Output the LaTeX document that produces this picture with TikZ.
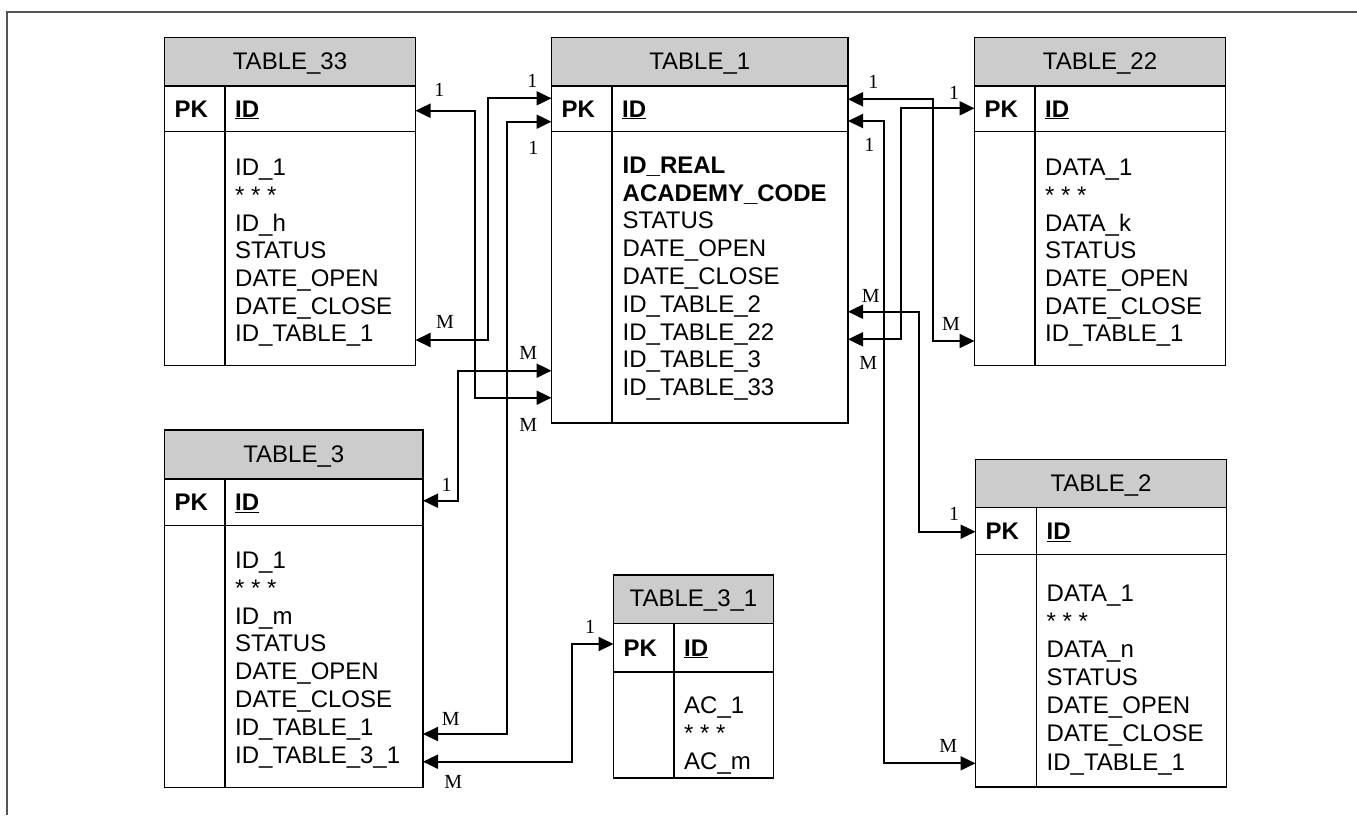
\documentclass[tikz,border=0pt]{standalone}
\usepackage{fontspec}
\setmainfont{Liberation Sans}
\newfontfamily\lblfont{Liberation Serif}
\usetikzlibrary{arrows.meta}
\definecolor{hdrgray}{RGB}{204,204,204}
\definecolor{framegray}{RGB}{85,85,85}
\tikzset{
  tbl/.style={draw=black, line width=1.8pt, inner sep=0pt, outer sep=0pt, anchor=north west},
  sepline/.style={line width=1.8pt},
  ttl/.style={font=\fontsize{24}{27.5}\selectfont, inner sep=0pt, anchor=base},
  fld/.style={font=\fontsize{24}{27.5}\selectfont, inner sep=0pt, anchor=base west},
  conn/.style={line width=2pt, {Triangle[length=15pt,width=14pt]}-{Triangle[length=15pt,width=14pt]}},
  card/.style={font=\lblfont\fontsize{20}{22}\selectfont, inner sep=0pt},
}
% #1 name #2 xl #3 yt #4 xr #5 yb #6 header bottom #7 pk bottom #8 divider x #9 title
\newcommand\dbtable[9]{%
  \fill[hdrgray] (#2,#3) rectangle (#4,#6);
  \pgfmathsetmacro\tblw{#4-#2}\pgfmathsetmacro\tblh{#5-#3}%
  \node[tbl, minimum width=\tblw pt, minimum height=\tblh pt] (#1) at (#2,#3) {};
  \draw[sepline] (#2,#6) -- (#4,#6) (#2,#7) -- (#4,#7) (#8,#6) -- (#8,#5);
  \node[ttl] (#1-title) at ({(#2+#4)/2},{(#3+#6)/2+7.5}) {#9};
  \node[fld] (#1-pk) at ({#2+10},{(#6+#7)/2+8.5}) {\textbf{PK}};
  \node[fld] (#1-id) at ({#8+10},{(#6+#7)/2+8.5}) {\underline{\textbf{ID}}};
}
% #1 name #2 x #3 first baseline #4 step #5 list
\newcommand\dbfields[5]{%
  \foreach \t [count=\i from 0] in {#5}
    \node[fld] (#1-f\i) at (#2,{#3+#4*\i}) {\t};
}
\begin{document}
\begin{tikzpicture}[x=1pt,y=-1pt]
\useasboundingbox (0,0) rectangle (1357,815);
\draw[framegray, line width=1.5pt] (1357,12) -- (7,12) -- (7,815);

\dbtable{t33}{164.5}{37.5}{415.5}{365.5}{86}{131.5}{225}{TABLE\_33}
\dbfields{t33}{235}{175.7}{27.7}{ID\_1,* * *,ID\_h,STATUS,DATE\_OPEN,DATE\_CLOSE,ID\_TABLE\_1}

\dbtable{t1}{551.5}{37.5}{848}{423}{86}{131.5}{612}{TABLE\_1}
\dbfields{t1}{622.5}{173.3}{27.8}{\textbf{ID\_REAL},\textbf{ACADEMY\_CODE},STATUS,DATE\_OPEN,DATE\_CLOSE,ID\_TABLE\_2,ID\_TABLE\_22,ID\_TABLE\_3,ID\_TABLE\_33}

\dbtable{t22}{974.5}{37.5}{1225.5}{365.5}{86}{131.5}{1035}{TABLE\_22}
\dbfields{t22}{1045}{175.7}{27.7}{DATA\_1,* * *,DATA\_k,STATUS,DATE\_OPEN,DATE\_CLOSE,ID\_TABLE\_1}

\dbtable{t3}{164.5}{430}{423}{787.5}{479}{525.5}{225}{TABLE\_3}
\dbfields{t3}{235}{568.3}{27.86}{ID\_1,* * *,ID\_m,STATUS,DATE\_OPEN,DATE\_CLOSE,ID\_TABLE\_1,ID\_TABLE\_3\_1}

\dbtable{t31}{613.5}{575}{773.5}{778}{623.5}{672}{674}{TABLE\_3\_1}
\dbfields{t31}{684}{713.3}{28.3}{AC\_1,* * *,AC\_m}

\dbtable{t2}{975.5}{459.5}{1226.5}{787}{507.5}{554.5}{1036.5}{TABLE\_2}
\dbfields{t2}{1046.5}{601.7}{28.05}{DATA\_1,* * *,DATA\_n,STATUS,DATE\_OPEN,DATE\_CLOSE,ID\_TABLE\_1}

% connectors
\draw[conn] (t33.east |- 0,110.7) -- (475,110.7) |- (t1.west |- 0,397.7);
\draw[conn] (t33.east |- 0,340) -- (488.3,340) |- (t1.west |- 0,98.3);
\draw[conn] (t3.east |- 0,734) -- (506.7,734) |- (t1.west |- 0,121.7);
\draw[conn] (t3.east |- 0,500.7) -- (458.3,500.7) |- (t1.west |- 0,370.7);
\draw[conn] (t3.east |- 0,761.7) -- (571.7,761.7) |- (t31.west |- 0,644);
\draw[conn] (t1.east |- 0,99.3) -- (932.7,99.3) |- (t22.west |- 0,341);
\draw[conn] (t1.east |- 0,121) -- (884,121) |- (t2.west |- 0,763.3);
\draw[conn] (t1.east |- 0,311.7) -- (919,311.7) |- (t2.west |- 0,531.7);
\draw[conn] (t1.east |- 0,339.3) -- (901,339.3) |- (t22.west |- 0,108.3);

% cardinality labels
\node[card] (c1) at (439.3,90) {1};
\node[card] (c2) at (532.3,80.7) {1};
\node[card] (c3) at (533.3,148.3) {1};
\node[card] (c4) at (445,321.7) {M};
\node[card] (c5) at (528.3,352.7) {M};
\node[card] (c6) at (528.3,425) {M};
\node[card] (c7) at (446.7,485) {1};
\node[card] (c8) at (590,626.7) {1};
\node[card] (c9) at (450.7,719.3) {M};
\node[card] (c10) at (453.3,782.3) {M};
\node[card] (c11) at (873.3,81.7) {1};
\node[card] (c12) at (954,93.3) {1};
\node[card] (c13) at (869.3,145) {1};
\node[card] (c14) at (870.7,296) {M};
\node[card] (c15) at (951,324.3) {M};
\node[card] (c16) at (868.3,363.3) {M};
\node[card] (c17) at (954,514) {1};
\node[card] (c18) at (948.3,746) {M};
\end{tikzpicture}
\end{document}
